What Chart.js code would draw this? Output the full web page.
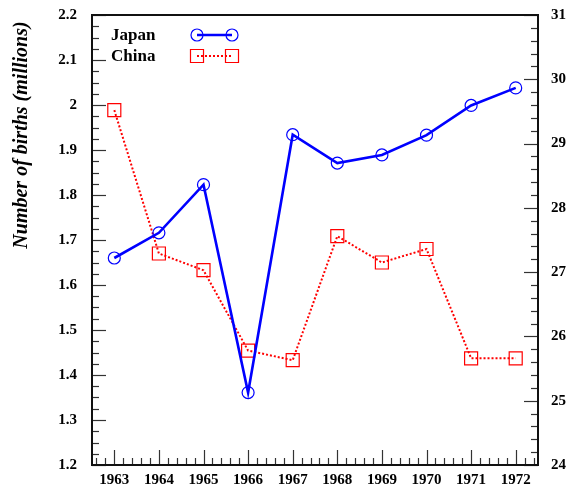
<!DOCTYPE html>
<html>
<head>
<meta charset="utf-8">
<script src="https://cdn.jsdelivr.net/npm/chart.js@4/dist/chart.umd.min.js"></script>
<style>
  html, body { margin: 0; padding: 0; background: #fff; }
  #wrap { width: 567px; height: 488px; }
</style>
</head>
<body>
<div id="wrap"><canvas id="births" width="567" height="488"></canvas></div>
<script>
// Annual births, 1963-1972
const years = [1963, 1964, 1965, 1966, 1967, 1968, 1969, 1970, 1971, 1972];
const japanBirths = [1.660, 1.716, 1.823, 1.361, 1.934, 1.871, 1.889, 1.933, 1.999, 2.038];
const chinaBirths = [29.52, 27.29, 27.03, 25.78, 25.63, 27.56, 27.15, 27.36, 25.66, 25.66];
const seriesNames = ['Japan', 'China'];

// Axis tick values and labels
const leftTicks = [1.2, 1.3, 1.4, 1.5, 1.6, 1.7, 1.8, 1.9, 2.0, 2.1, 2.2];
const leftTickLabels = ['1.2', '1.3', '1.4', '1.5', '1.6', '1.7', '1.8', '1.9', '2', '2.1', '2.2'];
const rightTicks = [24, 25, 26, 27, 28, 29, 30, 31];
const rightTickLabels = ['24', '25', '26', '27', '28', '29', '30', '31'];
const yTitle = 'Number of births (millions)';

const SERIF = '"Liberation Serif", "Times New Roman", serif';
const tickFont = { family: SERIF, size: 15, weight: 'bold' };

// keep the plot box fixed: no extra room reserved for end labels
function noEndPadding(s) {
  s.paddingTop = 0; s.paddingBottom = 0; s.paddingLeft = 0; s.paddingRight = 0;
}

// Inner tick marks (major + minor) and the frame around the plot area
const frameTicks = {
  id: 'frameTicks',
  beforeDatasetsDraw(chart) {
    const { ctx, chartArea: a, scales } = chart;
    const seg = (x1, y1, x2, y2) => { ctx.beginPath(); ctx.moveTo(x1, y1); ctx.lineTo(x2, y2); ctx.stroke(); };
    ctx.save();
    ctx.strokeStyle = '#333';
    ctx.lineWidth = 1.2;
    const major = 14, minor = 7;

    // left axis: 4 subdivisions per 0.1
    const yl = scales.yL;
    const lSteps = Math.round((yl.max - yl.min) / 0.025);
    for (let i = 0; i <= lSteps; i++) {
      const p = Math.round(yl.getPixelForValue(yl.min + i * 0.025)) + 0.5;
      seg(a.left, p, a.left + (i % 4 === 0 ? major : minor), p);
    }
    // right axis: 5 subdivisions per unit
    const yr = scales.yR;
    const rSteps = Math.round((yr.max - yr.min) / 0.2);
    for (let i = 0; i <= rSteps; i++) {
      const p = Math.round(yr.getPixelForValue(yr.min + i * 0.2)) + 0.5;
      seg(a.right, p, a.right - (i % 5 === 0 ? major : minor), p);
    }
    // bottom axis: 5 subdivisions per year
    const xs = scales.x;
    const start = Math.ceil((xs.min + 1e-6) / 0.2);
    const end = Math.floor((xs.max - 1e-6) / 0.2);
    for (let k = start; k <= end; k++) {
      const v = k * 0.2;
      const p = Math.round(xs.getPixelForValue(v)) + 0.5;
      seg(p, a.bottom, p, a.bottom - (k % 5 === 0 ? major + 1 : minor));
    }

    ctx.strokeStyle = '#111';
    ctx.lineWidth = 2;
    ctx.strokeRect(a.left, a.top, a.right - a.left, a.bottom - a.top);
    ctx.restore();
  }
};

// Legend box inside the plot and the rotated y-axis title
const legendAndTitle = {
  id: 'legendAndTitle',
  afterDraw(chart) {
    const { ctx } = chart;
    ctx.save();
    ctx.fillStyle = '#000';
    ctx.font = 'bold 17px ' + SERIF;
    ctx.textBaseline = 'middle';
    ctx.textAlign = 'left';
    const rowY = [35, 56];
    chart.data.datasets.forEach((ds, i) => {
      const y = rowY[i];
      ctx.fillStyle = '#000';
      ctx.fillText(ds.label, 111, y + 1);
      const x1 = 197, x2 = 232;
      ctx.save();
      ctx.strokeStyle = ds.borderColor;
      ctx.lineWidth = ds.borderWidth;
      ctx.setLineDash(ds.borderDash || []);
      ctx.beginPath(); ctx.moveTo(x1, y); ctx.lineTo(x2, y); ctx.stroke();
      ctx.restore();
      ctx.save();
      ctx.strokeStyle = ds.pointBorderColor;
      ctx.fillStyle = 'rgba(0,0,0,0)';
      ctx.lineWidth = ds.pointBorderWidth;
      [x1, x2].forEach(x => {
        Chart.helpers.drawPoint(ctx, {
          pointStyle: ds.pointStyle, radius: ds.pointRadius, rotation: 0, borderWidth: ds.pointBorderWidth
        }, x, y);
      });
      ctx.restore();
    });

    ctx.translate(26.5, 135);
    ctx.rotate(-Math.PI / 2);
    ctx.font = 'italic bold 20px ' + SERIF;
    ctx.textAlign = 'center';
    ctx.textBaseline = 'alphabetic';
    ctx.fillStyle = '#000';
    ctx.fillText(yTitle, 0, 0);
    ctx.restore();
  }
};

new Chart(document.getElementById('births'), {
  type: 'line',
  data: {
    datasets: [
      {
        label: seriesNames[0],
        data: years.map((x, i) => ({ x, y: japanBirths[i] })),
        yAxisID: 'yL',
        borderColor: '#0000ff',
        borderWidth: 2.6,
        tension: 0,
        fill: false,
        pointStyle: 'circle',
        pointRadius: 6,
        pointBorderWidth: 1.2,
        pointBorderColor: '#0000ff',
        pointBackgroundColor: 'rgba(0,0,0,0)'
      },
      {
        label: seriesNames[1],
        data: years.map((x, i) => ({ x, y: chinaBirths[i] })),
        yAxisID: 'yR',
        borderColor: '#ff0000',
        borderWidth: 2,
        borderDash: [2, 2],
        tension: 0,
        fill: false,
        pointStyle: 'rect',
        pointRadius: 9.2,
        pointBorderWidth: 1.2,
        pointBorderColor: '#ff0000',
        pointBackgroundColor: 'rgba(0,0,0,0)'
      }
    ]
  },
  options: {
    responsive: false,
    animation: false,
    events: [],
    layout: { padding: { top: 15, left: 0, right: 0, bottom: 0 } },
    plugins: { legend: { display: false }, tooltip: { enabled: false } },
    scales: {
      x: {
        type: 'linear',
        position: 'bottom',
        min: 1962.5,
        max: 1972.5,
        grid: { display: false, drawTicks: false },
        border: { display: false },
        afterBuildTicks: s => { s.ticks = years.map(v => ({ value: v })); },
        afterFit: s => { s.height = 23; noEndPadding(s); },
        ticks: {
          font: tickFont, color: '#000', padding: 6,
          maxRotation: 0, autoSkip: false,
          callback: v => String(v)
        }
      },
      yL: {
        type: 'linear',
        position: 'left',
        min: 1.2,
        max: 2.2,
        grid: { display: false, drawTicks: false },
        border: { display: false },
        afterBuildTicks: s => { s.ticks = leftTicks.map(v => ({ value: v })); },
        afterFit: s => { s.width = 92; noEndPadding(s); },
        ticks: {
          font: tickFont, color: '#000', padding: 15,
          callback: (v, i) => leftTickLabels[i]
        }
      },
      yR: {
        type: 'linear',
        position: 'right',
        min: 24,
        max: 31,
        grid: { display: false, drawTicks: false },
        border: { display: false },
        afterBuildTicks: s => { s.ticks = rightTicks.map(v => ({ value: v })); },
        afterFit: s => { s.width = 29; noEndPadding(s); },
        ticks: {
          font: tickFont, color: '#000', padding: 13,
          callback: (v, i) => rightTickLabels[i]
        }
      }
    }
  },
  plugins: [frameTicks, legendAndTitle]
});
</script>
</body>
</html>
